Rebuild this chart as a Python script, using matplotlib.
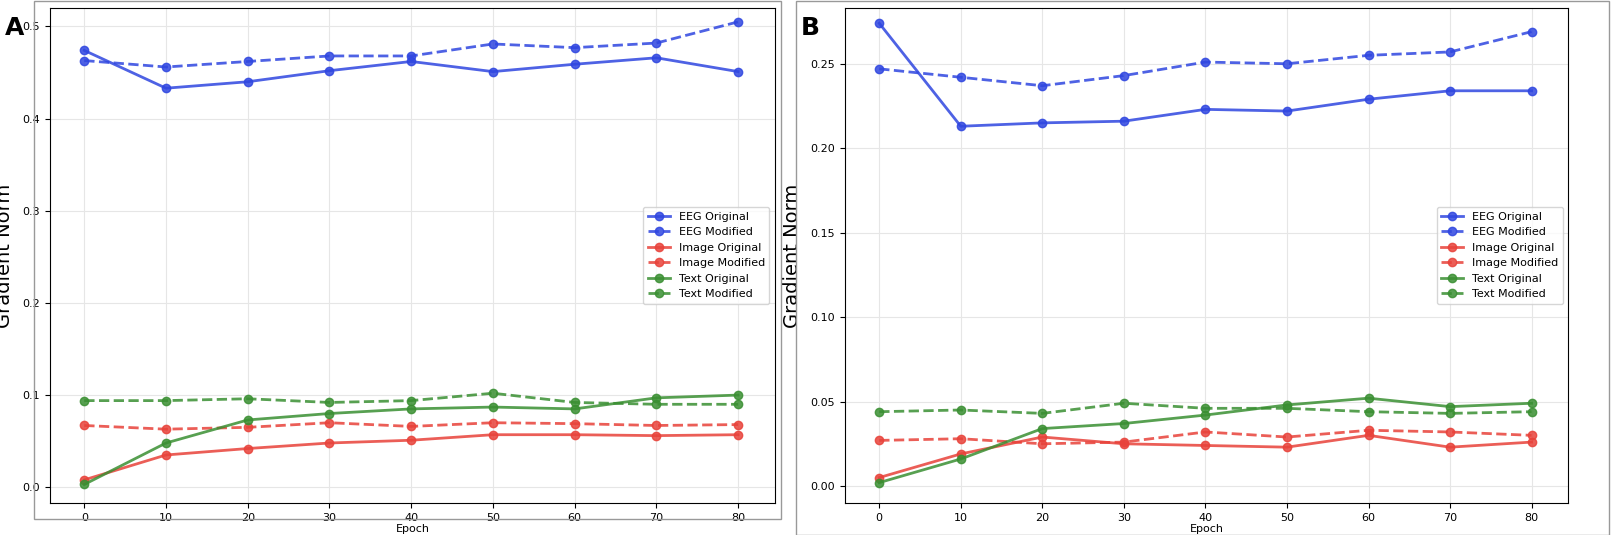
import matplotlib.pyplot as plt
from matplotlib.patches import Rectangle

epochs = [0, 10, 20, 30, 40, 50, 60, 70, 80]

a_eeg_orig = [0.474, 0.433, 0.440, 0.452, 0.462, 0.451, 0.459, 0.466, 0.451]
a_eeg_mod = [0.463, 0.456, 0.462, 0.468, 0.468, 0.481, 0.477, 0.482, 0.505]
a_img_orig = [0.008, 0.035, 0.042, 0.048, 0.051, 0.057, 0.057, 0.056, 0.057]
a_img_mod = [0.067, 0.063, 0.065, 0.070, 0.066, 0.070, 0.069, 0.067, 0.068]
a_txt_orig = [0.003, 0.048, 0.073, 0.080, 0.085, 0.087, 0.085, 0.097, 0.100]
a_txt_mod = [0.094, 0.094, 0.096, 0.092, 0.094, 0.102, 0.092, 0.090, 0.090]

b_eeg_orig = [0.274, 0.213, 0.215, 0.216, 0.223, 0.222, 0.229, 0.234, 0.234]
b_eeg_mod = [0.247, 0.242, 0.237, 0.243, 0.251, 0.250, 0.255, 0.257, 0.269]
b_img_orig = [0.005, 0.019, 0.029, 0.025, 0.024, 0.023, 0.030, 0.023, 0.026]
b_img_mod = [0.027, 0.028, 0.025, 0.026, 0.032, 0.029, 0.033, 0.032, 0.030]
b_txt_orig = [0.002, 0.016, 0.034, 0.037, 0.042, 0.048, 0.052, 0.047, 0.049]
b_txt_mod = [0.044, 0.045, 0.043, 0.049, 0.046, 0.046, 0.044, 0.043, 0.044]

colors = {"EEG": "#2f46e0", "Image": "#e8423a", "Text": "#3a8f32"}


def draw(ax, series, yticks, ylim):
    for name, orig, mod in series:
        c = colors[name]
        ax.plot(epochs, orig, "-o", color=c, lw=2, ms=6, alpha=0.85, label=name + " Original")
        ax.plot(epochs, mod, "--o", color=c, lw=2, ms=6, alpha=0.85, label=name + " Modified")
    ax.set_yticks(yticks)
    ax.set_ylim(*ylim)
    ax.set_xticks(epochs)
    ax.set_xlim(-4.2, 84.5)
    ax.grid(True, color="#e6e6e6", lw=0.8)
    ax.tick_params(labelsize=8)
    ax.set_xlabel("Epoch", fontsize=8, labelpad=1)
    ax.set_ylabel("Gradient Norm", fontsize=14, labelpad=6)
    ax.legend(loc="center right", fontsize=8, bbox_to_anchor=(1.0, 0.5))


fig = plt.figure(figsize=(16.11, 5.35), dpi=100)
ax1 = fig.add_axes([0.031, 0.06, 0.450, 0.925])
ax2 = fig.add_axes([0.5245, 0.06, 0.449, 0.925])

draw(ax1, [("EEG", a_eeg_orig, a_eeg_mod), ("Image", a_img_orig, a_img_mod),
           ("Text", a_txt_orig, a_txt_mod)], [0.0, 0.1, 0.2, 0.3, 0.4, 0.5], (-0.017, 0.52))
draw(ax2, [("EEG", b_eeg_orig, b_eeg_mod), ("Image", b_img_orig, b_img_mod),
           ("Text", b_txt_orig, b_txt_mod)], [0.0, 0.05, 0.10, 0.15, 0.20, 0.25], (-0.01, 0.283))
ax2.set_yticklabels(["0.00", "0.05", "0.10", "0.15", "0.20", "0.25"])

fig.add_artist(Rectangle((0.021, 0.03), 0.464, 0.968, transform=fig.transFigure,
                         fill=False, ec="#999999", lw=1))
fig.add_artist(Rectangle((0.494, 0.0), 0.505, 0.998, transform=fig.transFigure,
                         fill=False, ec="#999999", lw=1))
fig.text(0.003, 0.935, "A", fontsize=18, fontweight="bold")
fig.text(0.497, 0.935, "B", fontsize=18, fontweight="bold")

fig.savefig("out.png", dpi=100)
